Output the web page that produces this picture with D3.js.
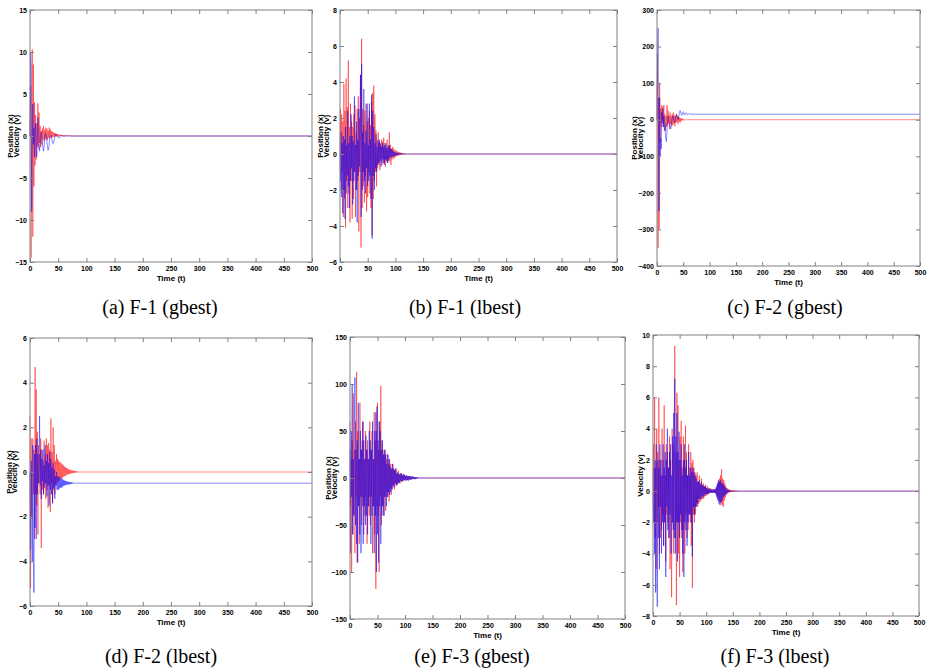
<!DOCTYPE html>
<html>
<head>
<meta charset="utf-8">
<script src="https://cdn.jsdelivr.net/npm/d3@7"></script>
<style>
  body { margin: 0; background: #fff; }
  .tick text { font-family: "Liberation Sans Narrow", "Liberation Sans", Arial, sans-serif; font-weight: bold; font-size: 7px; }
  .lab { font-family: "Liberation Sans", Arial, sans-serif; font-weight: bold; font-size: 8px; }
  .cap { font-family: "Liberation Serif", "Times New Roman", serif; font-size: 20px; }
</style>
</head>
<body>
<svg id="fig" width="929" height="671"></svg>
<script>
// x axis is the same for every panel
const timeTicks = [0, 50, 100, 150, 200, 250, 300, 350, 400, 450, 500];
const timeEnd = 500;

const captions = ["(a) F-1 (gbest)", "(b) F-1 (lbest)", "(c) F-2 (gbest)",
                  "(d) F-2 (lbest)", "(e) F-3 (gbest)", "(f) F-3 (lbest)"];

const yTicksA = [-15, -10, -5, 0, 5, 10, 15];
const yTicksB = [-6, -4, -2, 0, 2, 4, 6, 8];
const yTicksC = [-400, -300, -200, -100, 0, 100, 200, 300];
const yTicksD = [-6, -4, -2, 0, 2, 4, 6];
const yTicksE = [-150, -100, -50, 0, 50, 100, 150];
const yTicksF = [-8, -6, -4, -2, 0, 2, 4, 6, 8, 10];

// values per iteration from t = 0; the last value holds until t = 500
const redA = [0, 6, -14.5, 3, 10.3, -12, 8.5, -6, 4, -3.5, 2.5, -2.8, 1.5, -1.2, 3.9, -1.5, 2.8, -0.8, 1.2, -1.3,
  0.6, -1, 0.9, -0.4, 1.2, -0.6, 0.7, -0.4, 1, -0.3, 0.9, -0.5, 0.6, -0.2, 1, -0.3, 0.8, -0.1, 0.6, -0.2,
  0.5, -0.1, 0.4, -0.1, 0.35, -0.05, 0.3, -0.05, 0.25, -0.04, 0.2, -0.03, 0.15, -0.02, 0.15, -0.02, 0.12, -0.01, 0.1, -0.02,
  0.1, -0.02, 0.08, -0.02, 0.08, -0.01, 0.06, -0.01, 0.05, -0.01, 0.05, -0.01, 0.04, 0, 0.03, 0, 0.02, 0, 0.01, 0];
const blueA = [0, 10, 8, -9, -2, 3.8, -1, 1, -2.5, 0.5, 1.5, -1.5, -2.5, 0, 2.2, 1, -1, -1.8, -1, 0.3,
  0.5, 0, -0.8, -1.5, -1.8, -1.2, -0.4, 0.2, 0.3, -0.1, -0.7, -1.3, -1.7, -1.5, -1, -0.4, 0, 0.1, -0.1, -0.5,
  -0.8, -0.9, -0.7, -0.4, -0.1, 0.1, 0.2, 0.1, 0, -0.1, -0.2, -0.25, -0.2, -0.1, 0, 0.05, 0.08, 0.05, 0, -0.05,
  -0.08, -0.06, -0.02, 0.02, 0.03, 0.01, 0];

const redB = [0, 2.5, -2, 2.2, -1, 1.8, -3.5, 3.9, -2.5, 2.4,
  -4.1, 4.2, -1.5, 2.6, -3, 5.2, -2.2, 1.5, -3.8, 2.8,
  -1.5, 1.8, -3.6, 1.5, -2.5, 2.2, -1, 2.7, -3.5, 1.2,
  -2, 2.5, -1.5, 3.2, -4.3, 2, -1, 4.4, -5.2, 6.4,
  -3, 2.5, -1.8, 1.6, -2.7, 2.4, -1.2, 2.8, -3.2, 1.8,
  -2.4, 2, -1, 2.4, -2.2, 1.6, -3, 2.9, -4.5, 3.4,
  -2.5, 3.8, -1.5, 2.2, -1, 1.3, -1.8, 0.8, -0.8, 1.2,
  -0.6, 0.7, -0.9, 0.5, -0.4, 0.8, -0.6, 0.7, -0.3, 0.9,
  -0.5, 0.6, -0.7, 0.4, -0.3, 0.8, -0.5, 0.5, -0.4, 1.2,
  -0.4, 0.5, -0.6, 0.3, -0.3, 0.4, -0.2, 0.3, -0.25, 0.2,
  -0.15, 0.2, -0.12, 0.15, -0.1, 0.12, -0.08, 0.1, -0.06, 0.08,
  -0.05, 0.06, -0.04, 0.05, -0.03, 0.04, -0.03, 0.03, -0.02, 0.02,
  -0.02, 0.02, -0.01, 0.01, -0.01, 0.01, 0];
const blueB = [0, -1.5, 1.2, -2.4, 0.6, -3.3, 1, -2, 0.8, -3.6,
  1.5, -2.2, 0.5, -1.2, 2.4, -1.8, 0.6, -3, 1, -1.5,
  2.2, -0.8, 1, -2.8, 0.7, -1.5, 3.2, -1, 0.5, -2,
  1.8, -3.8, 0.8, -1.2, 2.5, -0.7, 1.5, 4.4, -3.5, 5,
  -2, 1.2, -1, 3.6, -1.5, 0.6, -2.2, 1.3, -0.8, 2.8,
  -1.8, 0.5, -1.5, 2.8, -1.2, 0.8, -2.5, 3.3, -4.7, 2.4,
  -1.2, 1.5, -2, 0.6, -0.8, 1.1, -1, 0.4, -0.6, 0.7,
  -0.5, 0.8, -0.4, 0.6, -0.7, 0.4, -0.3, 0.6, -0.5, 0.4,
  -0.6, 0.5, -0.3, 0.6, -0.4, 0.3, -0.5, 0.4, -0.3, 0.5,
  -0.2, 0.3, -0.2, 0.25, -0.15, 0.2, -0.15, 0.12, -0.1, 0.1,
  -0.08, 0.08, -0.06, 0.06, -0.05, 0.05, -0.04, 0.04, -0.03, 0.03,
  -0.02, 0.03, -0.02, 0.02, -0.01, 0.01, 0];

const redC = [0, 180, -350, 60, -300, 100, -60, 30, -20, 40,
  0, 35, -20, 40, -10, 15, -30, 10, -20, 40,
  -15, 25, -10, 12, -25, 20, -12, 10, -18, 15,
  -15, 20, -10, 12, -18, 10, -8, 15, -6, 10,
  -12, 8, -5, 6, -8, 4, -3, 4, -2, 2,
  -1.5, 1, -1, 0.5, -0.5, 0.3, -0.2, 0];
const blueC = [0, 150, 250, -80, -250, 60, -100, -50, -80, 20,
  -10, 30, -20, 10, -30, -10, -40, -55, -60, -30,
  -10, 10, 5, -5, -15, -20, -25, -15, -5, 5,
  10, 5, 0, -5, -8, 0, 10, 15, 12, 5,
  0, 5, 15, 22, 25, 20, 15, 12, 15, 20,
  22, 18, 14, 13, 16, 19, 18, 15, 14, 15,
  17, 16, 15, 15];

const redD = [2.5, -5.2, 1.5, -2, 0.5, 1.5, -1, 1, -3, 4.7,
  -1, 3.7, -1.5, 1.8, -2.8, 1.2, -0.5, 0.8, -1, 1.5,
  -3.4, 1, -0.8, 0.5, -1, 1.4, -0.5, 0.8, -1.2, 1.5,
  -0.8, 1.2, -1.6, 1.3, -0.6, 1, -1.8, 2.4, -0.5, 0.9,
  -1.4, 2, -0.8, 1.2, -1, 0.5, -0.6, 0.8, -0.5, 0.6,
  -0.4, 0.5, -0.4, 0.45, -0.3, 0.4, -0.3, 0.35, -0.25, 0.3,
  -0.2, 0.25, -0.18, 0.2, -0.15, 0.18, -0.12, 0.15, -0.1, 0.12,
  -0.08, 0.1, -0.07, 0.08, -0.06, 0.07, -0.05, 0.06, -0.04, 0.05,
  -0.03, 0.04, -0.02, 0.03, -0.02, 0.02, -0.01, 0.01, 0];
const blueD = [0, -3.5, 0.5, -1, -4, 1.2, -3.8, -5.4, 0.8, -2.5,
  1.2, -3, 1.5, -1, 0.8, -0.5, 0.4, 2.5, -0.6, 1,
  -1.2, 0.6, -0.4, 1, -1, 0.3, -0.7, 1.2, -0.5, 0.5,
  -1.1, 0.8, -0.6, 0.4, -1.5, 0.9, -0.8, 0.6, -1, 0.2,
  -1.4, 0.4, -0.7, 0.1, -1.2, -0.2, -0.6, 0, -0.8, -0.2,
  -0.8, -0.2, -0.75, -0.25, -0.7, -0.3, -0.7, -0.3, -0.65, -0.35,
  -0.62, -0.38, -0.6, -0.4, -0.58, -0.42, -0.57, -0.43, -0.56, -0.44,
  -0.55, -0.45, -0.54, -0.46, -0.53, -0.47, -0.52, -0.48, -0.51, -0.49, -0.5];

const redE = [60, -30, 20, -100, 40, -60, 90, -40, 30, -80,
  60, -20, 113, -90, 50, -30, 20, -70, 80, -20,
  30, -50, 40, -30, 60, -60, 20, -40, 50, -20,
  30, -70, 40, -30, 20, -40, 60, -50, 30, -20,
  50, -80, 20, -30, 70, -60, 40, -118, 50, -30,
  80, -40, 30, -100, 60, -20, 98, -50, 40, -30,
  30, -40, 25, -20, 30, -35, 20, -15, 25, -20,
  15, -25, 20, -10, 15, -18, 10, -12, 15, -8,
  10, -12, 8, -6, 10, -8, 5, -6, 8, -5,
  4, -6, 5, -3, 5, -4, 3, -3, 4, -2,
  3, -2, 2, -3, 2, -2, 2, -1.5, 2, -1.5,
  1.5, -1.5, 1, -1.2, 1, -1, 0.8, -0.8, 0.6, -0.6,
  0.5, -0.4, 0.4, -0.3, 0.3, -0.2, 0.2, -0.1, 0.1, 0];
const blueE = [30, -80, 50, -20, 100, -60, 20, -40, 60, 107,
  -50, 30, -70, 40, -90, 80, -30, 20, -60, 50,
  -80, 30, -20, 60, -70, 40, -30, 20, -50, 45,
  -40, 30, -60, 20, -30, 50, -20, 40, -70, 30,
  -40, 60, -30, 20, -80, 50, -40, 70, -100, 76,
  -60, 40, -90, 60, -30, 50, -70, 30, -40, 40,
  -30, 25, -40, 30, -20, 25, -30, 15, -20, 25,
  -15, 20, -18, 12, -15, 10, -12, 15, -8, 10,
  -10, 8, -6, 10, -8, 5, -7, 6, -5, 4,
  -5, 4, -3, 5, -4, 3, -3, 4, -2, 3,
  -3, 2, -2, 3, -2, 2, -3, 2, -1.5, 2,
  -2, 1.5, -1.5, 2, -1, 1.5, -1, 1, -1.5, 1,
  -1, 0.8, -0.6, 0.5, -0.5, 0.4, -0.3, 0.3, -0.2, 0.2,
  -0.1, 0.1, 0];

const redF = [0, 3, -2, 6, -3, 1.5, -5, 4, -2, 2.5,
  -1, 6, -4, 2, -3, 1, -2.5, 4, -1.5, 2,
  -3.5, 5.5, -2, 1, -4.5, 3, -1.5, 2.5, -2, 1.5,
  -3, 3.5, -5, 2, -1.5, -6.8, 4, -2, 3, -4,
  5, 9.3, -3, 2.5, -7.3, 6.3, -2, 5.5, -4, 2,
  -5.5, 3.5, -2, 4.5, -3, 1.5, -5.2, 3.5, -2.5, 2,
  -4, 4.2, -1.5, 2.5, -3, 1, -2.5, 3, -1.5, 1.5,
  -2, 2.5, -3.5, 1.8, -6.2, 2, -1.5, 1.5, -2, 1.2,
  -1.5, 1, -0.8, 1.2, -1, 0.6, -0.8, 1, -0.7, 0.5,
  -0.6, 0.8, -0.5, 0.4, -0.5, 0.5, -0.4, 0.3, -0.3, 0.4,
  -0.3, 0.2, -0.2, 0.3, -0.2, 0.2, -0.15, 0.2, -0.1, 0.15,
  -0.1, 0.1, -0.1, 0.1, -0.1, 0.1, -0.1, 0.1, -0.1, 0.2,
  -0.3, 0.4, -0.5, 0.6, -0.6, 0.8, -0.7, 1, -0.8, 1.4,
  -0.9, 0.8, -1, 0.7, -0.6, 0.5, -0.4, 0.3, -0.25, 0.2,
  -0.15, 0.15, -0.1, 0.1, -0.08, 0.08, -0.06, 0.06, -0.05, 0.05,
  -0.05, 0.05, -0.04, 0.04, -0.04, 0.04, -0.03, 0.03, -0.03, 0.03,
  -0.02, 0.02, -0.02, 0.02, -0.01, 0.01, -0.01, 0.01, 0];
const blueF = [0, -2, 1.5, -4, 2, -6.5, 3, -1, -7.4, 2,
  -3, 1.5, -5, 3, -1, 2, -4, 1, -2, 3,
  -3.5, 1.5, -2, 2.5, -5.5, 2, -1, 4, -2.5, 1.5,
  -3, 2.5, -1.5, 3, -4, 1, -2, 3.5, -2.5, 5,
  -3, 7.2, -4, 3.5, -2, 5, -4.5, 2.5, -2, 3.8,
  -3, 2, -1.5, 3, -2.5, 1, -4, 2, -5.5, 3,
  -2, 1.5, -2.5, 2, -3.5, 1, -2, 2.5, -1.5, 1,
  -1.5, 1.5, -2, 1.2, -4.2, 1.5, -1, 1.2, -1.5, 1,
  -1, 0.8, -1, 0.6, -0.8, 0.6, -0.5, 0.7, -0.5, 0.4,
  -0.5, 0.6, -0.3, 0.4, -0.4, 0.3, -0.3, 0.3, -0.2, 0.3,
  -0.2, 0.2, -0.2, 0.15, -0.15, 0.15, -0.1, 0.1, -0.1, 0.1,
  -0.1, 0.1, -0.1, 0.1, -0.1, 0.1, -0.1, 0.15, -0.2, 0.3,
  -0.4, 0.5, -0.6, 0.7, -0.8, 0.6, -0.9, 0.7, -0.7, 0.5,
  -0.6, 0.5, -0.4, 0.4, -0.3, 0.3, -0.2, 0.2, -0.15, 0.1,
  -0.1, 0.08, -0.06, 0.05, -0.05, 0.04, -0.03, 0.03, -0.02, 0.02,
  -0.02, 0.02, -0.01, 0.01, 0];

// layout: axes box [left, top, right, bottom], caption centre, y-label offsets
const panels = [
  { box: [30, 10, 312, 262],  yTicks: yTicksA, red: redA, blue: blueA, cap: captions[0], capX: 160, capY: 314, labs: [-17, -11] },
  { box: [340, 10, 617, 262], yTicks: yTicksB, red: redB, blue: blueB, cap: captions[1], capX: 465, capY: 314, labs: [-17, -11] },
  { box: [657, 10, 920, 266], yTicks: yTicksC, red: redC, blue: blueC, cap: captions[2], capX: 785, capY: 314, labs: [-20, -14] },
  { box: [30, 338, 312, 606], yTicks: yTicksD, red: redD, blue: blueD, cap: captions[3], capX: 161, capY: 663, labs: [-18, -13] },
  { box: [350, 337, 625, 619], yTicks: yTicksE, red: redE, blue: blueE, cap: captions[4], capX: 472, capY: 663, labs: [-19, -13] },
  { box: [653, 335, 919, 616], yTicks: yTicksF, red: redF, blue: blueF, cap: captions[5], capX: 775, capY: 663, labs: [null, -10] }
];

const svg = d3.select("#fig");

panels.forEach(drawPanel);

function drawPanel(p) {
    const [l, t, r, b] = p.box;
    const yt = p.yTicks;

    const x = d3.scaleLinear().domain([0, timeEnd]).range([l, r]);
    const y = d3.scaleLinear().domain([yt[0], yt[yt.length - 1]]).range([b, t]);

    const g = svg.append("g");

    const line = d3.line()
        .x(d => x(d[0]))
        .y(d => y(d[1]));

    const toPts = vals => {
        const pts = vals.map((v, i) => [i, v]);
        pts.push([timeEnd, vals[vals.length - 1]]);
        return pts;
    };

    g.append("path")
        .attr("d", line(toPts(p.red)))
        .attr("fill", "none")
        .attr("stroke", "#ff0000")
        .attr("stroke-opacity", 0.55)
        .attr("stroke-width", 0.85);

    g.append("path")
        .attr("d", line(toPts(p.blue)))
        .attr("fill", "none")
        .attr("stroke", "#0000ff")
        .attr("stroke-opacity", 0.55)
        .attr("stroke-width", 0.85);

    // axes, ticks pointing inwards on all four sides
    const axisColor = "#808080";
    const styleAxis = sel => {
        sel.select(".domain").remove();
        sel.selectAll(".tick line").attr("stroke", axisColor);
        sel.selectAll(".tick text").attr("fill", "#000");
    };

    g.append("g")
        .attr("transform", `translate(0,${b})`)
        .call(d3.axisBottom(x).tickValues(timeTicks).tickSize(-4).tickPadding(4))
        .call(styleAxis);

    g.append("g")
        .attr("transform", `translate(0,${t})`)
        .call(d3.axisTop(x).tickValues(timeTicks).tickSize(-4).tickFormat(""))
        .call(styleAxis);

    g.append("g")
        .attr("transform", `translate(${l},0)`)
        .call(d3.axisLeft(y).tickValues(yt).tickSize(-4).tickPadding(3))
        .call(styleAxis);

    g.append("g")
        .attr("transform", `translate(${r},0)`)
        .call(d3.axisRight(y).tickValues(yt).tickSize(-4).tickFormat(""))
        .call(styleAxis);

    g.append("rect")
        .attr("x", l).attr("y", t)
        .attr("width", r - l).attr("height", b - t)
        .attr("fill", "none")
        .attr("stroke", axisColor)
        .attr("stroke-width", 1);

    g.append("text")
        .attr("class", "lab")
        .attr("x", (l + r) / 2)
        .attr("y", b + 19)
        .attr("text-anchor", "middle")
        .text("Time (t)");

    const midY = (t + b) / 2;
    if (p.labs[0] !== null) {
        g.append("text")
            .attr("class", "lab")
            .attr("transform", `translate(${l + p.labs[0]},${midY}) rotate(-90)`)
            .attr("text-anchor", "middle")
            .text("Position (x)");
    }
    g.append("text")
        .attr("class", "lab")
        .attr("transform", `translate(${l + p.labs[1]},${midY}) rotate(-90)`)
        .attr("text-anchor", "middle")
        .text("Velocity (v)");

    svg.append("text")
        .attr("class", "cap")
        .attr("x", p.capX)
        .attr("y", p.capY)
        .attr("text-anchor", "middle")
        .text(p.cap);
}
</script>
</body>
</html>
